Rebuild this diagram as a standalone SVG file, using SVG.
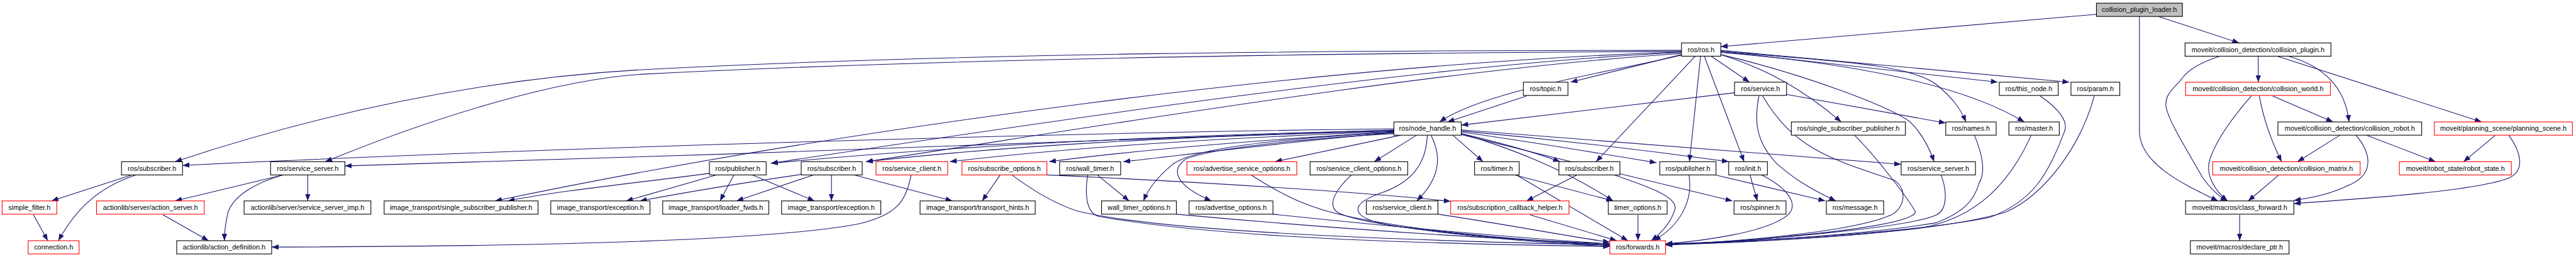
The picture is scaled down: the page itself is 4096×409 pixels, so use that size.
<svg xmlns="http://www.w3.org/2000/svg" width="4096" height="409" viewBox="0 0 4096 409">
<style>
.n rect{fill:#fff;stroke:#000;stroke-width:1.3}
.n.r rect{stroke:#ff0000}
.n.g rect{fill:#bfbfbf}
.n text{font-family:"Liberation Sans",Arial,sans-serif;font-size:13px;text-anchor:middle;fill:#000}
#edges path{fill:none;stroke:#191970;stroke-width:1.3;marker-end:url(#a)}
</style>
<defs>
<marker id="a" markerUnits="userSpaceOnUse" markerWidth="13" markerHeight="10" refX="13" refY="5" orient="auto" viewBox="0 0 13 10"><path d="M0,0 L13,5 L0,10 z" fill="#191970"/></marker>
</defs>
<rect width="4096" height="409" fill="#fff"/>
<g transform="scale(0.8437)">
<g id="edges">
<path d="M3951,27 L3243,88"/>
<path d="M4068,31 L4220,81"/>
<path d="M4032,31 L4032,247 C4032,310 4120,350 4180,379"/>
<path d="M4256,106 L4256,155"/>
<path d="M4183,106 C4150,117 4125,130 4113,147 C4100,165 4080,175 4082,200 C4085,225 4120,280 4150,333 C4165,355 4180,370 4198,379"/>
<path d="M4313,106 C4380,125 4420,165 4427,230"/>
<path d="M4292,106 L4677,230"/>
<path d="M4243,181 C4200,230 4175,270 4165,300 C4155,330 4175,360 4198,379"/>
<path d="M4258,181 C4265,220 4280,265 4300,305"/>
<path d="M4283,181 L4397,230"/>
<path d="M4410,255 L4330,305"/>
<path d="M4460,255 L4590,305"/>
<path d="M4440,255 C4470,290 4475,330 4425,350 C4395,365 4360,373 4323,378"/>
<path d="M4703,255 L4643,305"/>
<path d="M4728,255 C4750,285 4760,320 4730,335 C4670,360 4450,375 4323,384"/>
<path d="M4295,330 L4237,379"/>
<path d="M4221,405 L4221,454"/>
<path d="M3169,103 L2960,155"/>
<path d="M3225,106 L3297,155"/>
<path d="M3243,103 C3330,130 3400,170 3470,230"/>
<path d="M3212,106 L3287,305"/>
<path d="M3205,106 L3184,305"/>
<path d="M3195,106 L3008,305"/>
<path d="M3169,104 C3040,135 2800,170 2713,230"/>
<path d="M3243,97 L3765,155"/>
<path d="M3243,95 L3900,155"/>
<path d="M3243,97 C3450,115 3600,120 3650,160 C3680,185 3695,205 3705,230"/>
<path d="M3243,99 C3500,120 3700,160 3815,230"/>
<path d="M3243,103 C3400,140 3560,200 3600,230 C3620,250 3635,275 3645,305"/>
<path d="M3169,95 C2500,95 1800,100 1200,132 C900,150 600,215 330,305"/>
<path d="M3169,97 C2500,100 1800,110 1210,140 C1050,150 820,220 613,305"/>
<path d="M3169,99 C2700,120 2000,225 1453,308"/>
<path d="M3169,101 C2700,130 2000,250 1632,305"/>
<path d="M3169,98 C2500,120 1600,240 933,379"/>
<path d="M2627,243 C2000,250 1000,280 344,312"/>
<path d="M2627,245 C2100,265 1300,295 650,313"/>
<path d="M2627,246 C2200,255 1800,275 1453,308"/>
<path d="M2627,247 C2200,258 1900,275 1632,305"/>
<path d="M2627,248 C2300,260 2000,280 1790,305"/>
<path d="M2627,249 C2400,262 2150,282 1977,305"/>
<path d="M2627,250 C2450,265 2250,290 2117,305"/>
<path d="M2640,255 L2403,305"/>
<path d="M2670,255 L2590,305"/>
<path d="M2738,255 L2795,305"/>
<path d="M2754,252 C2830,270 2900,290 2940,305"/>
<path d="M2754,249 C2900,270 3050,295 3122,307"/>
<path d="M2754,247 C2950,265 3150,290 3258,305"/>
<path d="M2754,245 C3100,270 3450,300 3583,310"/>
<path d="M2697,255 C2720,300 2710,340 2670,379"/>
<path d="M2690,255 C2688,310 2660,345 2600,365 C2545,385 2540,410 2620,425 C2750,445 2900,458 3034,465"/>
<path d="M2627,250 C2400,262 2250,280 2210,310 C2180,335 2165,355 2155,379"/>
<path d="M2627,252 C2450,262 2280,280 2235,300 C2205,320 2215,350 2283,379"/>
<path d="M2754,252 C2850,280 2950,320 3040,379"/>
<path d="M2754,254 C2900,290 3100,340 3265,379"/>
<path d="M248,330 L97,379"/>
<path d="M256,330 C180,355 140,400 110,454"/>
<path d="M63,405 L90,454"/>
<path d="M533,330 L330,379"/>
<path d="M580,330 L580,379"/>
<path d="M533,330 C480,345 440,370 430,400 C425,420 423,440 423,454"/>
<path d="M307,405 L393,454"/>
<path d="M1717,330 C1708,380 1690,405 1620,422 C1450,455 1000,465 512,466"/>
<path d="M1337,327 C1200,345 1050,360 957,379"/>
<path d="M1350,330 C1280,350 1230,365 1180,379"/>
<path d="M1383,330 L1357,379"/>
<path d="M1418,330 L1535,379"/>
<path d="M1510,329 C1400,345 1280,365 1206,379"/>
<path d="M1533,330 L1388,379"/>
<path d="M1567,330 L1567,379"/>
<path d="M1610,330 L1795,379"/>
<path d="M1885,330 L1851,379"/>
<path d="M1973,330 C2300,345 2600,365 2734,380"/>
<path d="M1907,330 C1950,362 1990,385 2030,398 C2200,440 2700,455 3034,462"/>
<path d="M2068,330 L2128,379"/>
<path d="M2050,330 C2045,360 2045,400 2070,408 C2300,450 2700,460 3034,465"/>
<path d="M2358,330 C2420,370 2470,395 2550,410 C2700,440 2900,455 3034,462"/>
<path d="M2547,330 C2520,355 2500,385 2520,400 C2560,425 2800,450 3034,463"/>
<path d="M2217,404 C2500,430 2800,450 3034,460"/>
<path d="M2399,404 C2600,425 2850,448 3034,460"/>
<path d="M2710,404 C2850,425 2950,445 3034,457"/>
<path d="M2883,405 L3047,454"/>
<path d="M2855,330 L3040,379"/>
<path d="M2858,330 L3068,454"/>
<path d="M3087,405 L3087,454"/>
<path d="M2972,330 L2877,379"/>
<path d="M3042,330 C3100,350 3160,370 3157,393 C3150,420 3130,440 3112,454"/>
<path d="M3183,330 C3190,370 3175,420 3117,454"/>
<path d="M3233,330 L3440,379"/>
<path d="M3298,330 L3312,379"/>
<path d="M3320,330 C3370,355 3390,385 3370,405 C3330,440 3200,455 3139,460"/>
<path d="M3495,255 C3540,300 3600,380 3610,400 C3600,430 3300,455 3139,462"/>
<path d="M3269,175 L2754,236"/>
<path d="M3315,181 C3305,230 3310,270 3350,310 C3390,345 3430,365 3460,379"/>
<path d="M3367,178 L3667,232"/>
<path d="M3322,181 C3380,280 3450,300 3570,340 C3600,360 3585,400 3560,407 C3480,440 3250,457 3139,462"/>
<path d="M2877,181 L2728,230"/>
<path d="M3845,181 C3880,205 3900,230 3890,250 C3860,330 3830,380 3750,410 C3600,440 3300,455 3139,461"/>
<path d="M3947,181 C3920,280 3850,370 3780,400 C3650,440 3350,455 3139,462"/>
<path d="M3721,255 C3740,300 3740,330 3730,345 C3720,380 3700,400 3650,420 C3500,445 3300,455 3139,460"/>
<path d="M3828,255 C3790,340 3730,410 3620,430 C3450,450 3250,458 3139,461"/>
<path d="M3658,330 C3670,360 3670,395 3650,405 C3600,430 3300,455 3139,461"/>
</g>
<g id="loader" class="n g"><rect x="3951" y="6" width="162" height="25"/><text x="4032" y="23">collision_plugin_loader.h</text></g>
<g id="ros" class="n"><rect x="3169" y="81" width="74" height="25"/><text x="3206" y="98">ros/ros.h</text></g>
<g id="cplugin" class="n"><rect x="4118" y="81" width="275" height="25"/><text x="4255.5" y="98">moveit/collision_detection/collision_plugin.h</text></g>
<g id="topic" class="n"><rect x="2871" y="155" width="84" height="25"/><text x="2913" y="172">ros/topic.h</text></g>
<g id="service" class="n"><rect x="3269" y="155" width="98" height="25"/><text x="3318" y="172">ros/service.h</text></g>
<g id="thisnode" class="n"><rect x="3768" y="155" width="111" height="25"/><text x="3823.5" y="172">ros/this_node.h</text></g>
<g id="param" class="n"><rect x="3903" y="155" width="92" height="25"/><text x="3949" y="172">ros/param.h</text></g>
<g id="cworld" class="n r"><rect x="4119" y="155" width="273" height="25"/><text x="4255.5" y="172">moveit/collision_detection/collision_world.h</text></g>
<g id="nh" class="n"><rect x="2627" y="230" width="127" height="25"/><text x="2690.5" y="247">ros/node_handle.h</text></g>
<g id="ssp" class="n"><rect x="3376" y="230" width="215" height="25"/><text x="3483.5" y="247">ros/single_subscriber_publisher.h</text></g>
<g id="names" class="n"><rect x="3667" y="230" width="95" height="25"/><text x="3714.5" y="247">ros/names.h</text></g>
<g id="master" class="n"><rect x="3786" y="230" width="95" height="25"/><text x="3833.5" y="247">ros/master.h</text></g>
<g id="crobot" class="n"><rect x="4293" y="230" width="271" height="25"/><text x="4428.5" y="247">moveit/collision_detection/collision_robot.h</text></g>
<g id="pscene" class="n r"><rect x="4588" y="230" width="260" height="25"/><text x="4718" y="247">moveit/planning_scene/planning_scene.h</text></g>
<g id="sub1" class="n"><rect x="229" y="305" width="115" height="25"/><text x="286.5" y="322">ros/subscriber.h</text></g>
<g id="ss1" class="n"><rect x="510" y="305" width="140" height="25"/><text x="580" y="322">ros/service_server.h</text></g>
<g id="pub1" class="n"><rect x="1337" y="305" width="107" height="25"/><text x="1390.5" y="322">ros/publisher.h</text></g>
<g id="sub2" class="n"><rect x="1510" y="305" width="115" height="25"/><text x="1567.5" y="322">ros/subscriber.h</text></g>
<g id="sc1" class="n r"><rect x="1651" y="305" width="135" height="25"/><text x="1718.5" y="322">ros/service_client.h</text></g>
<g id="subopt" class="n r"><rect x="1813" y="305" width="160" height="25"/><text x="1893" y="322">ros/subscribe_options.h</text></g>
<g id="wt" class="n"><rect x="1997" y="305" width="115" height="25"/><text x="2054.5" y="322">ros/wall_timer.h</text></g>
<g id="aso" class="n r"><rect x="2237" y="305" width="207" height="25"/><text x="2340.5" y="322">ros/advertise_service_options.h</text></g>
<g id="sco" class="n"><rect x="2469" y="305" width="184" height="25"/><text x="2561" y="322">ros/service_client_options.h</text></g>
<g id="timer" class="n"><rect x="2779" y="305" width="84" height="25"/><text x="2821" y="322">ros/timer.h</text></g>
<g id="sub3" class="n"><rect x="2938" y="305" width="115" height="25"/><text x="2995.5" y="322">ros/subscriber.h</text></g>
<g id="pub2" class="n"><rect x="3128" y="305" width="106" height="25"/><text x="3181" y="322">ros/publisher.h</text></g>
<g id="init" class="n"><rect x="3258" y="305" width="73" height="25"/><text x="3294.5" y="322">ros/init.h</text></g>
<g id="ss2" class="n"><rect x="3583" y="305" width="140" height="25"/><text x="3653" y="322">ros/service_server.h</text></g>
<g id="cmatrix" class="n r"><rect x="4170" y="305" width="278" height="25"/><text x="4309" y="322">moveit/collision_detection/collision_matrix.h</text></g>
<g id="rstate" class="n r"><rect x="4522" y="305" width="211" height="25"/><text x="4627.5" y="322">moveit/robot_state/robot_state.h</text></g>
<g id="sfilter" class="n r"><rect x="4" y="379" width="103" height="25"/><text x="55.5" y="396">simple_filter.h</text></g>
<g id="aserver" class="n r"><rect x="182" y="379" width="203" height="25"/><text x="283.5" y="396">actionlib/server/action_server.h</text></g>
<g id="ssimp" class="n"><rect x="460" y="379" width="239" height="25"/><text x="579.5" y="396">actionlib/server/service_server_imp.h</text></g>
<g id="itssp" class="n"><rect x="724" y="379" width="290" height="25"/><text x="869" y="396">image_transport/single_subscriber_publisher.h</text></g>
<g id="itexc1" class="n"><rect x="1038" y="379" width="187" height="25"/><text x="1131.5" y="396">image_transport/exception.h</text></g>
<g id="itlf" class="n"><rect x="1249" y="379" width="200" height="25"/><text x="1349" y="396">image_transport/loader_fwds.h</text></g>
<g id="itexc2" class="n"><rect x="1473" y="379" width="187" height="25"/><text x="1566.5" y="396">image_transport/exception.h</text></g>
<g id="itth" class="n"><rect x="1734" y="379" width="217" height="25"/><text x="1842.5" y="396">image_transport/transport_hints.h</text></g>
<g id="wto" class="n"><rect x="2076" y="379" width="141" height="25"/><text x="2146.5" y="396">wall_timer_options.h</text></g>
<g id="ao" class="n"><rect x="2241" y="379" width="158" height="25"/><text x="2320" y="396">ros/advertise_options.h</text></g>
<g id="sc2" class="n"><rect x="2575" y="379" width="135" height="25"/><text x="2642.5" y="396">ros/service_client.h</text></g>
<g id="sch" class="n r"><rect x="2734" y="379" width="223" height="25"/><text x="2845.5" y="396">ros/subscription_callback_helper.h</text></g>
<g id="to" class="n"><rect x="3031" y="379" width="111" height="25"/><text x="3086.5" y="396">timer_options.h</text></g>
<g id="spinner" class="n"><rect x="3268" y="379" width="98" height="25"/><text x="3317" y="396">ros/spinner.h</text></g>
<g id="message" class="n"><rect x="3442" y="379" width="108" height="25"/><text x="3496" y="396">ros/message.h</text></g>
<g id="cfwd" class="n"><rect x="4119" y="379" width="204" height="25"/><text x="4221" y="396">moveit/macros/class_forward.h</text></g>
<g id="conn" class="n r"><rect x="53" y="454" width="96" height="25"/><text x="101" y="471">connection.h</text></g>
<g id="adef" class="n"><rect x="333" y="454" width="179" height="25"/><text x="422.5" y="471">actionlib/action_definition.h</text></g>
<g id="fwd" class="n r"><rect x="3034" y="454" width="105" height="25"/><text x="3086.5" y="471">ros/forwards.h</text></g>
<g id="dptr" class="n"><rect x="4128" y="454" width="186" height="25"/><text x="4221" y="471">moveit/macros/declare_ptr.h</text></g>
</g>
</svg>
